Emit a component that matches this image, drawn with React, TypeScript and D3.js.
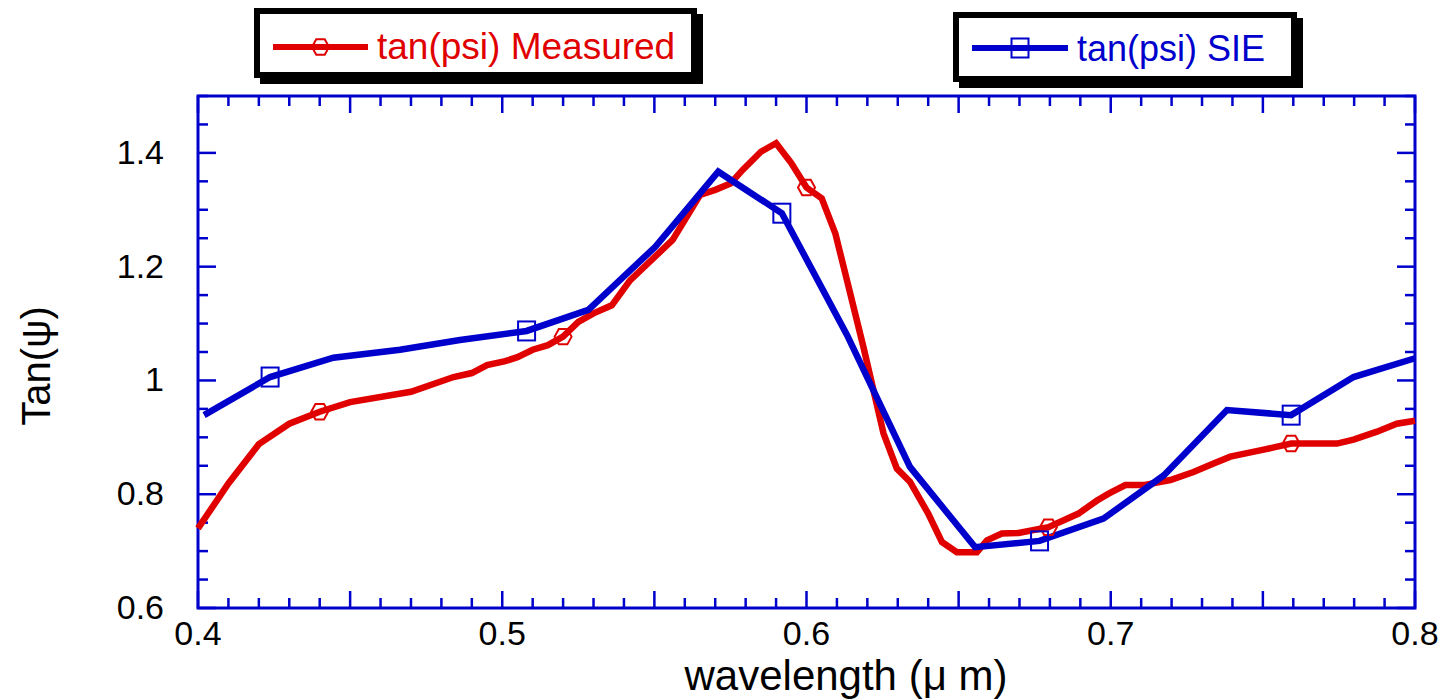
import React from "react";
import * as d3 from "d3";

// Measured tan(psi)
const measuredWl = [
  0.4, 0.41, 0.42, 0.43, 0.44, 0.45, 0.47, 0.484, 0.49, 0.495, 0.501, 0.505, 0.51, 0.515, 0.52,
  0.525, 0.53, 0.536, 0.542, 0.556, 0.565, 0.57, 0.575, 0.579, 0.585, 0.59, 0.595, 0.6, 0.605,
  0.6095, 0.6133, 0.6187, 0.6253, 0.6297, 0.634, 0.64, 0.6445, 0.6494, 0.656, 0.6593, 0.6642,
  0.6697, 0.6795, 0.6894, 0.6955, 0.6993, 0.7048, 0.7108, 0.7196, 0.7272, 0.7338, 0.7393, 0.7491,
  0.7593, 0.7744, 0.7798, 0.7875, 0.794, 0.8,
];
const measuredVal = [
  0.74, 0.819, 0.888, 0.924, 0.945, 0.962, 0.98, 1.006, 1.013, 1.027, 1.034, 1.041, 1.054, 1.062, 1.077,
  1.103, 1.118, 1.132, 1.176, 1.247, 1.326, 1.335, 1.346, 1.37, 1.402, 1.417, 1.382, 1.339, 1.32,
  1.258, 1.176, 1.059, 0.907, 0.845, 0.822, 0.766, 0.716, 0.698, 0.698, 0.719, 0.731,
  0.732, 0.742, 0.766, 0.789, 0.801, 0.816, 0.816, 0.825, 0.839, 0.854, 0.866, 0.877,
  0.889, 0.889, 0.896, 0.91, 0.924, 0.929,
];
const measuredMarkers = [0.44, 0.52, 0.6, 0.6795, 0.7593];

// SIE tan(psi)
const sieWl = [
  0.402, 0.4237, 0.4445, 0.4664, 0.4861, 0.508, 0.5283, 0.5503, 0.571, 0.5919, 0.6133, 0.634,
  0.6554, 0.6766, 0.6976, 0.7174, 0.7382, 0.7593, 0.7798, 0.8,
];
const sieVal = [
  0.939, 1.006, 1.04, 1.054, 1.071, 1.087, 1.124, 1.235, 1.367, 1.294, 1.08, 0.848,
  0.707, 0.718, 0.757, 0.833, 0.948, 0.939, 1.006, 1.039,
];
const sieMarkers = [0.4237, 0.508, 0.5919, 0.6766, 0.7593];

const xTickLabels = [0.4, 0.5, 0.6, 0.7, 0.8];
const yTickLabels = [0.6, 0.8, 1.0, 1.2, 1.4];
const seriesNames = ["tan(psi) Measured", "tan(psi) SIE"];

const RED = "#e00000";
const BLUE = "#0000cc";
const FONT = "'Liberation Sans', Arial, Helvetica, sans-serif";

const L = 198, R = 1415, T = 96, B = 608;

export default function App() {
  const x = d3.scaleLinear().domain([0.4, 0.8]).range([L, R]);
  const y = d3.scaleLinear().domain([0.6, 1.5]).range([B, T]);

  const line = d3
    .line<[number, number]>()
    .x((d) => x(d[0]))
    .y((d) => y(d[1]));

  const measured: [number, number][] = measuredWl.map((w, i) => [w, measuredVal[i]]);
  const sie: [number, number][] = sieWl.map((w, i) => [w, sieVal[i]]);

  const xMinor = d3.range(0, 41).map((i) => 0.4 + i * 0.01);
  const yMinor = d3.range(0, 19).map((i) => 0.6 + i * 0.05);

  const hexPath = (cx: number, cy: number, r: number) => {
    const pts = d3.range(6).map((k) => {
      const a = (Math.PI / 3) * k;
      return [cx + r * Math.cos(a), cy + r * 1.05 * Math.sin(a)];
    });
    return "M" + pts.map((p) => p.join(",")).join("L") + "Z";
  };

  const ticks: JSX.Element[] = [];
  xMinor.forEach((v, i) => {
    const major = i % 5 === 0;
    const len = major ? 17 : 10;
    const px = x(v);
    ticks.push(<line key={"xb" + i} x1={px} x2={px} y1={B} y2={B - len} stroke={BLUE} strokeWidth={2.5} />);
    ticks.push(<line key={"xt" + i} x1={px} x2={px} y1={T} y2={T + len} stroke={BLUE} strokeWidth={2.5} />);
  });
  yMinor.forEach((v, i) => {
    const major = i % 4 === 0;
    const len = major ? 18 : 10;
    const py = y(v);
    ticks.push(<line key={"yl" + i} x1={L} x2={L + len} y1={py} y2={py} stroke={BLUE} strokeWidth={2.5} />);
    ticks.push(<line key={"yr" + i} x1={R} x2={R - len} y1={py} y2={py} stroke={BLUE} strokeWidth={2.5} />);
  });

  const legend = (
    bx: number, by: number, bw: number, bh: number,
    color: string, name: string, lx1: number, lx2: number, ly: number,
    tx: number, ty: number, fs: number, marker: "hex" | "sq"
  ) => (
    <g>
      <rect x={bx + 6} y={by + 6} width={bw} height={bh} fill="#000" />
      <rect x={bx + 3} y={by + 3} width={bw - 6} height={bh - 6} fill="#fff" stroke="#000" strokeWidth={6} />
      <line x1={lx1} x2={lx2} y1={ly} y2={ly} stroke={color} strokeWidth={6} />
      {marker === "hex" ? (
        <path d={hexPath((lx1 + lx2) / 2, ly, 8.5)} fill="none" stroke={color} strokeWidth={2} />
      ) : (
        <rect x={(lx1 + lx2) / 2 - 8.5} y={ly - 9.5} width={17} height={19} fill="none" stroke={color} strokeWidth={2} />
      )}
      <text x={tx} y={ty} fill={color} fontSize={fs} fontFamily={FONT}>{name}</text>
    </g>
  );

  return (
    <div style={{ position: "absolute", left: 0, top: 0 }}>
      <svg width={1443} height={700} style={{ display: "block", background: "#fff" }}>
        <rect x={0} y={0} width={1443} height={700} fill="#fff" />
        {legend(254, 8, 443, 70, RED, seriesNames[0], 273, 368, 47, 377, 59, 37, "hex")}
        {legend(953, 12, 344, 70, BLUE, seriesNames[1], 972, 1068, 48, 1077, 61, 36, "sq")}

        {ticks}
        <rect x={L} y={T} width={R - L} height={B - T} fill="none" stroke={BLUE} strokeWidth={3} />

        {xTickLabels.map((v) => (
          <text key={"xl" + v} x={x(v)} y={B + 37} textAnchor="middle" fontSize={34} fontFamily={FONT} fill="#000">
            {d3.format(".1f")(v)}
          </text>
        ))}
        {yTickLabels.map((v) => (
          <text key={"yl" + v} x={164} y={y(v) + 11} textAnchor="end" fontSize={34} fontFamily={FONT} fill="#000">
            {v === 1 ? "1" : d3.format(".1f")(v)}
          </text>
        ))}

        <text x={846} y={690} textAnchor="middle" fontSize={42} fontFamily={FONT} fill="#000">
          wavelength (μ m)
        </text>
        <text transform="translate(50,366) rotate(-90)" textAnchor="middle" fontSize={40} fontFamily={FONT} fill="#000">
          Tan(ψ)
        </text>

        <path d={line(measured) || ""} fill="none" stroke={RED} strokeWidth={6.5} strokeLinejoin="miter" />
        <path d={line(sie) || ""} fill="none" stroke={BLUE} strokeWidth={6.5} strokeLinejoin="miter" />

        {measured
          .filter((d) => measuredMarkers.includes(d[0]))
          .map((d, i) => (
            <path key={"mm" + i} d={hexPath(x(d[0]), y(d[1]), 8.5)} fill="none" stroke={RED} strokeWidth={2} />
          ))}
        {sie
          .filter((d) => sieMarkers.includes(d[0]))
          .map((d, i) => (
            <rect key={"sm" + i} x={x(d[0]) - 8.5} y={y(d[1]) - 9.5} width={17} height={19} fill="none" stroke={BLUE} strokeWidth={2} />
          ))}
      </svg>
    </div>
  );
}
